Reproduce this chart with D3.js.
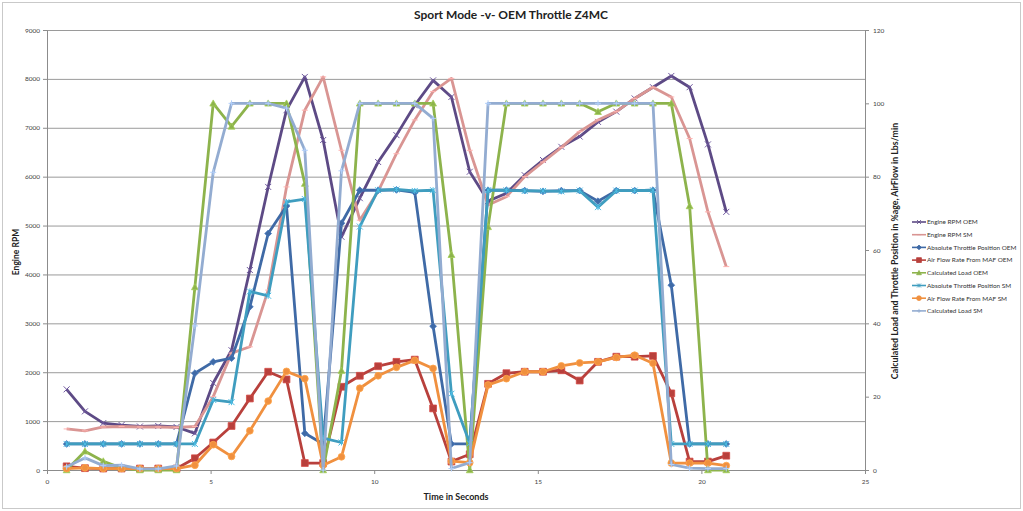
<!DOCTYPE html>
<html lang="en">
<head>
<meta charset="UTF-8">
<title>Sport Mode -v- OEM Throttle Z4MC</title>
<script src="https://cdnjs.cloudflare.com/ajax/libs/d3/7.8.5/d3.min.js"></script>
<style>
    body { margin: 0; background: #fff; }
    svg text { font-family: Lato, "Open Sans", "DejaVu Sans", sans-serif; }
    .tick text { fill: #444; font-size: 6.5px; }
    .axis path, .axis line { stroke: #8c8c8c; }
</style>
</head>
<body>
<div id="chart"></div>
<script>
// time stamps (s)
var times = [0.60, 1.16, 1.72, 2.28, 2.84, 3.40, 3.96, 4.52, 5.08, 5.64, 6.20, 6.76, 7.32,
             7.88, 8.44, 9.00, 9.56, 10.12, 10.68, 11.24, 11.80, 12.36, 12.92, 13.48, 14.04,
             14.60, 15.16, 15.72, 16.28, 16.84, 17.40, 17.96, 18.52, 19.08, 19.64, 20.20, 20.76];

// primary axis (RPM)
var rpmOEM = [1650, 1200, 960, 920, 890, 900, 880, 750, 1780, 2450, 4090, 5790, 7360,
              8040, 6750, 4770, 5560, 6300, 6850, 7460, 7970, 7630, 6100, 5500, 5660,
              6030, 6340, 6610, 6820, 7120, 7330, 7600, 7830, 8060, 7830, 6660, 5280];
var rpmSM = [840, 800, 880, 890, 880, 880, 870, 890, 1500, 2390, 2520, 3680, 5790,
             7360, 8040, 6540, 5110, 5700, 6470, 7160, 7740, 8010, 6540, 5420, 5590,
             6000, 6300, 6600, 6920, 7160, 7330, 7600, 7830, 7630, 6780, 5280, 4160];

// secondary axis (% and lbs/min)
var atpOEM = [7.1, 7.1, 7.1, 7.1, 7.1, 7.1, 7.1, 26.4, 29.5, 30.5, 44.5, 64.5, 72.0,
              10.0, 7.1, 67.3, 76.3, 76.3, 76.4, 75.7, 39.2, 7.1, 7.1, 76.3, 76.3,
              76.2, 76.0, 76.2, 76.2, 73.3, 76.2, 76.2, 76.3, 50.4, 7.1, 7.1, 7.1];
var afrOEM = [1.0, 0.5, 0.4, 0.4, 0.4, 0.4, 0.4, 3.2, 7.5, 12.0, 19.5, 26.8, 24.7,
              1.9, 1.9, 22.7, 25.7, 28.3, 29.5, 30.1, 16.8, 2.3, 4.3, 23.5, 26.4,
              26.8, 26.8, 27.2, 24.4, 29.5, 30.9, 30.9, 31.1, 20.9, 2.3, 2.3, 3.9];
var loadOEM = [0, 5.1, 2.4, 0.5, 0, 0, 0, 49.9, 100, 93.7, 100, 100, 100,
               78.1, 0, 27.1, 100, 100, 100, 100, 100, 58.7, 0, 66.3, 100,
               100, 100, 100, 100, 97.7, 100, 100, 100, 100, 72.0, 0, 0];
var atpSM = [7.1, 7.1, 7.1, 7.1, 7.1, 7.1, 7.1, 7.1, 19.1, 18.5, 48.7, 47.5, 73.1,
             73.9, 8.7, 7.5, 66.4, 76.3, 76.5, 76.1, 76.3, 20.8, 7.3, 76.3, 76.3,
             76.1, 76.1, 76.0, 76.2, 71.7, 76.2, 76.2, 76.3, 7.1, 7.1, 7.1, 7.1];
var afrSM = [0.4, 0.6, 0.4, 0.4, 0.4, 0.4, 0.4, 1.3, 6.9, 3.7, 10.7, 18.8, 26.9,
             24.9, 1.3, 3.6, 22.3, 25.7, 28.0, 29.9, 27.7, 2.4, 2.0, 23.2, 24.9,
             26.8, 26.8, 28.4, 29.2, 29.5, 30.7, 31.3, 29.1, 1.9, 1.9, 1.9, 1.2];
var loadSM = [0.9, 3.3, 1.2, 1.3, 0.3, 0.3, 1.1, 39.3, 81.2, 100, 100, 100, 98.7,
              87.2, 0, 81.6, 100, 100, 100, 100, 95.9, 0.4, 2.0, 100, 100,
              100, 100, 100, 100, 100, 100, 100, 100, 1.5, 0.5, 0.4, 0.4];

var xTicks = [0, 5, 10, 15, 20, 25];
var yLeftTicks = [0, 1000, 2000, 3000, 4000, 5000, 6000, 7000, 8000, 9000];
var yRightTicks = [0, 20, 40, 60, 80, 100, 120];

var series = [
    {name: 'Engine RPM OEM', values: rpmOEM, axis: 'L', color: '#5d4a85', marker: 'x'},
    {name: 'Engine RPM SM', values: rpmSM, axis: 'L', color: '#d99593', marker: 'dash'},
    {name: 'Absolute Throttle Position OEM', values: atpOEM, axis: 'R', color: '#3f6aa6', marker: 'diamond'},
    {name: 'Air Flow Rate From MAF OEM', values: afrOEM, axis: 'R', color: '#b8403c', marker: 'square'},
    {name: 'Calculated Load OEM', values: loadOEM, axis: 'R', color: '#8db34c', marker: 'triangle'},
    {name: 'Absolute Throttle Position SM', values: atpSM, axis: 'R', color: '#3f9dbf', marker: 'star'},
    {name: 'Air Flow Rate From MAF SM', values: afrSM, axis: 'R', color: '#f0903f', marker: 'circle'},
    {name: 'Calculated Load SM', values: loadSM, axis: 'R', color: '#93acd1', marker: 'plus'}
];

var w = 1023, h = 511,
    plotL = 47, plotR = 865, plotT = 30, plotB = 470;

var svg = d3.select('#chart').append('svg')
            .attr('width', w)
            .attr('height', h);

svg.append('rect')
    .attr('x', 2.5).attr('y', 2.5)
    .attr('width', w - 5).attr('height', h - 5)
    .attr('fill', '#fff')
    .attr('stroke', '#c9c9c9');

var xScale = d3.scaleLinear().domain([0, 25]).range([plotL, plotR]);
var yLeft = d3.scaleLinear().domain([0, 9000]).range([plotB, plotT]);
var yRight = d3.scaleLinear().domain([0, 120]).range([plotB, plotT]);

// GRIDLINES
svg.append('g')
    .attr('transform', 'translate(' + plotL + ',0)')
    .call(d3.axisLeft(yLeft).tickValues(yLeftTicks).tickSize(-(plotR - plotL)).tickFormat(''))
    .call(g => g.select('.domain').remove())
    .call(g => g.selectAll('line').attr('stroke', '#9a9a9a'));

// AXES
svg.append('g')
    .attr('class', 'axis')
    .attr('transform', 'translate(' + plotL + ',0)')
    .call(d3.axisLeft(yLeft).tickValues(yLeftTicks).tickFormat(d3.format('d')).tickSize(4).tickPadding(3));

svg.append('g')
    .attr('class', 'axis')
    .attr('transform', 'translate(' + plotR + ',0)')
    .call(d3.axisRight(yRight).tickValues(yRightTicks).tickFormat(d3.format('d')).tickSize(4).tickPadding(4));

svg.append('g')
    .attr('class', 'axis')
    .attr('transform', 'translate(0,' + plotB + ')')
    .call(d3.axisBottom(xScale).tickValues(xTicks).tickFormat(d3.format('d')).tickSize(4).tickPadding(5));

svg.selectAll('.axis .domain').attr('stroke', '#8c8c8c');

// MARKERS
function markerPath(type, s) {
    switch (type) {
        case 'x': return 'M' + -s + ',' + -s + 'L' + s + ',' + s + 'M' + -s + ',' + s + 'L' + s + ',' + -s;
        case 'dash': return 'M' + -s + ',0L' + s + ',0';
        case 'plus': return 'M' + -s + ',0L' + s + ',0M0,' + -s + 'L0,' + s;
        case 'star': return 'M' + -s + ',' + -s + 'L' + s + ',' + s + 'M' + -s + ',' + s + 'L' + s + ',' + -s + 'M0,' + -s + 'L0,' + s;
        case 'diamond': return 'M0,' + -s + 'L' + s + ',0L0,' + s + 'L' + -s + ',0Z';
        case 'square': return 'M' + -s + ',' + -s + 'H' + s + 'V' + s + 'H' + -s + 'Z';
        case 'triangle': return 'M0,' + -s + 'L' + s + ',' + (s * 0.8) + 'L' + -s + ',' + (s * 0.8) + 'Z';
        case 'circle': return 'M' + -s + ',0A' + s + ',' + s + ' 0 1,0 ' + s + ',0A' + s + ',' + s + ' 0 1,0 ' + -s + ',0Z';
    }
}
var filled = {diamond: true, square: true, triangle: true, circle: true};

// SERIES
series.forEach(function (s) {
    var yScale = s.axis === 'L' ? yLeft : yRight;
    var pts = s.values.map((v, i) => [times[i], v]);
    var line = d3.line().x(d => xScale(d[0])).y(d => yScale(d[1]));
    var g = svg.append('g');
    g.append('path')
        .datum(pts)
        .attr('d', line)
        .attr('fill', 'none')
        .attr('stroke', s.color)
        .attr('stroke-width', 2.8)
        .attr('stroke-linejoin', 'round');
    g.selectAll('path.mk')
        .data(pts)
        .enter()
        .append('path')
        .attr('class', 'mk')
        .attr('transform', d => 'translate(' + xScale(d[0]) + ',' + yScale(d[1]) + ')')
        .attr('d', markerPath(s.marker, filled[s.marker] ? 3.4 : 3))
        .attr('fill', filled[s.marker] ? s.color : 'none')
        .attr('stroke', filled[s.marker] ? d3.color(s.color).brighter(0.4) : d3.color(s.color).brighter(0.5))
        .attr('stroke-width', filled[s.marker] ? 0.8 : 1);
});

// TITLES
svg.append('text')
    .attr('x', 511).attr('y', 19)
    .attr('text-anchor', 'middle')
    .style('font-size', '12px')
    .style('font-weight', 'bold')
    .attr('fill', '#222')
    .text('Sport Mode -v- OEM Throttle Z4MC');

svg.append('text')
    .attr('x', 456).attr('y', 500)
    .attr('text-anchor', 'middle')
    .style('font-size', '9px')
    .style('font-weight', 'bold')
    .attr('fill', '#222')
    .text('Time in Seconds');

svg.append('text')
    .attr('transform', 'translate(19,252) rotate(-90)')
    .attr('text-anchor', 'middle')
    .style('font-size', '8.5px')
    .style('font-weight', 'bold')
    .attr('fill', '#222')
    .text('Engine RPM');

svg.append('text')
    .attr('transform', 'translate(898,251) rotate(-90)')
    .attr('text-anchor', 'middle')
    .style('font-size', '8.8px')
    .style('font-weight', 'bold')
    .attr('fill', '#222')
    .text('Calculated Load and Throttle Position in %age, AirFlow in Lbs/min');

// LEGEND
var legend = svg.append('g').attr('transform', 'translate(912,222)');
series.forEach(function (s, i) {
    var row = legend.append('g').attr('transform', 'translate(0,' + (i * 12.7) + ')');
    row.append('line')
        .attr('x1', 0).attr('x2', 14)
        .attr('stroke', s.color)
        .attr('stroke-width', 1.6);
    row.append('path')
        .attr('transform', 'translate(7,0)')
        .attr('d', markerPath(s.marker, filled[s.marker] ? 2.4 : 2))
        .attr('fill', filled[s.marker] ? s.color : 'none')
        .attr('stroke', s.color)
        .attr('stroke-width', 0.8);
    row.append('text')
        .attr('x', 15).attr('y', 2.3)
        .style('font-size', '6.4px')
        .attr('fill', '#333')
        .text(s.name);
});
</script>
</body>
</html>
